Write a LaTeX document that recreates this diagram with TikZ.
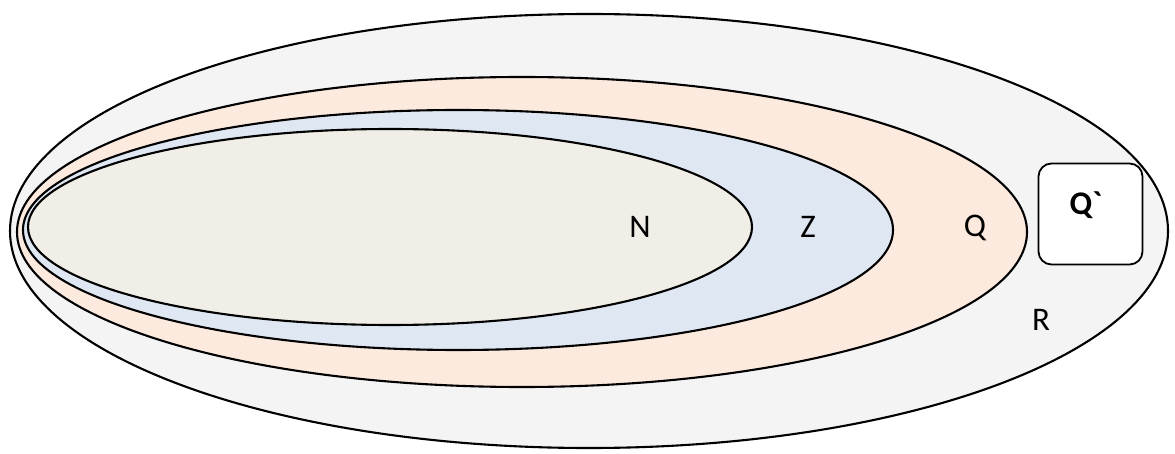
\documentclass[tikz,border=0pt]{standalone}
\usepackage{fontspec}
\setmainfont{Carlito}
\newfontfamily\qfont{Carlito}
\definecolor{rfill}{RGB}{244,244,244}
\definecolor{qfill}{RGB}{252,234,222}
\definecolor{zfill}{RGB}{223,231,242}
\definecolor{nfill}{RGB}{240,238,230}
\begin{document}
\begin{tikzpicture}[x=1pt,y=-1pt,
  setline/.style={draw=black,line width=2.1pt},
  lbl/.style={font=\fontsize{33}{38}\selectfont,inner sep=0pt}]
\useasboundingbox (0,0) rectangle (1175,454);
\path[setline,fill=rfill] (589,231) ellipse [x radius=579, y radius=217];
\path[setline,fill=qfill] (522,232) ellipse [x radius=505, y radius=155];
\path[setline,fill=zfill] (458,230) ellipse [x radius=435, y radius=120];
\path[setline,fill=nfill] (390,227) ellipse [x radius=362, y radius=98];
\node[setline,fill=white,rounded corners=13pt,minimum width=104pt,minimum height=101pt,line width=1.8pt] (qp) at (1090.5,214) {};
\node[lbl,font=\qfont\bfseries\fontsize{33}{38}\selectfont] (qpt) at (1086,205) {Q`};
\node[lbl] (n) at (640,227) {N};
\node[lbl] (z) at (808,227) {Z};
\node[lbl] (q) at (975,228) {Q};
\node[lbl] (r) at (1041,320) {R};
\end{tikzpicture}
\end{document}
